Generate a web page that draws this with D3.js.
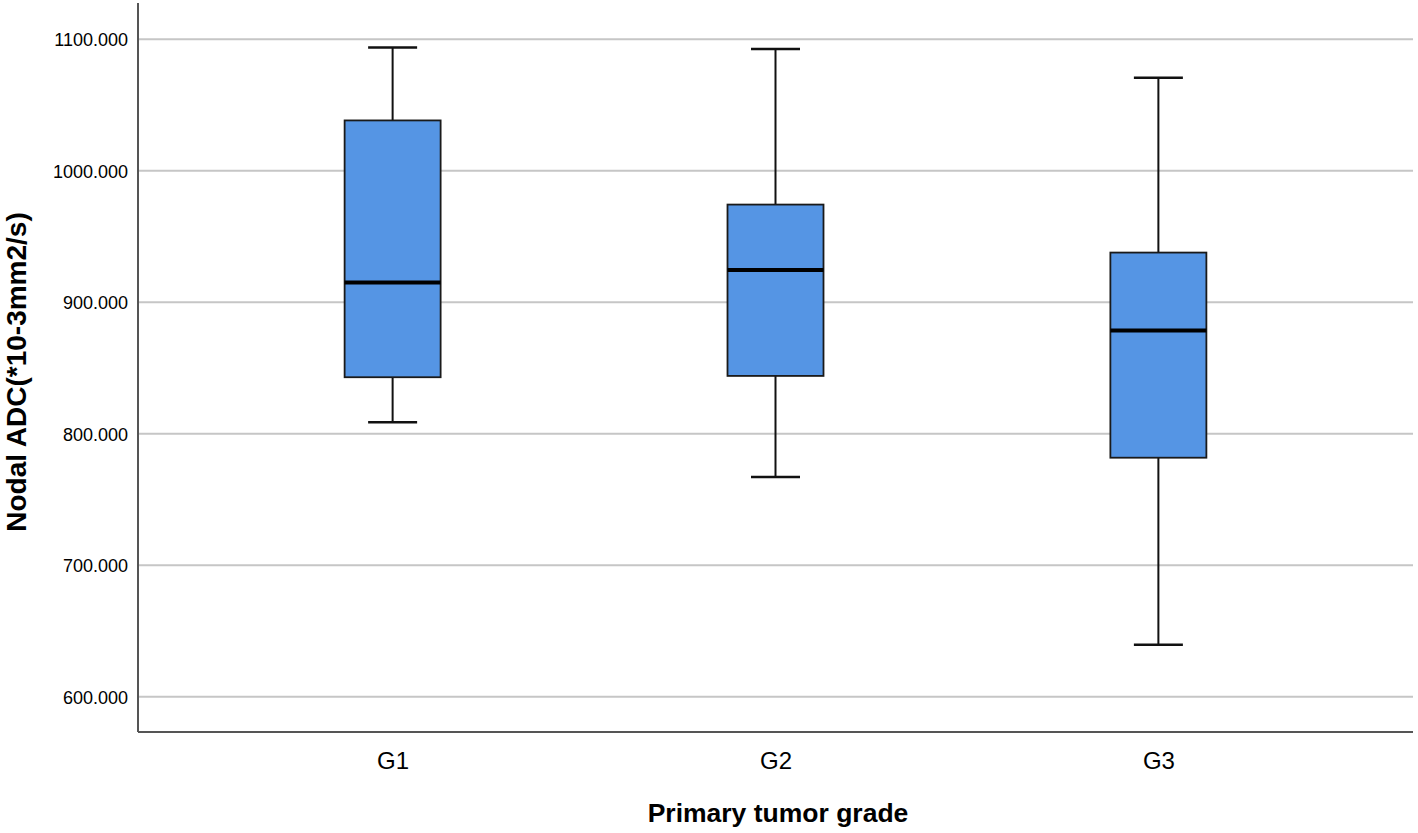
<!DOCTYPE html>
<html lang="en">
<head>
<meta charset="UTF-8">
<title>Nodal ADC by primary tumor grade</title>
<script src="https://d3js.org/d3.v7.min.js"></script>
<style>
  body { margin: 0; background: #fff; }
  svg text { font-family: Arial, "Liberation Sans", sans-serif; fill: #000; }
</style>
</head>
<body>
<div id="chart"></div>
<script>
// data
const grades = ["G1", "G2", "G3"];
const whiskerLow  = [808.8, 767.2, 639.5];
const q1          = [843.0, 844.0, 781.8];
const median      = [915.0, 924.5, 878.5];
const q3          = [1038.3, 974.3, 937.8];
const whiskerHigh = [1093.8, 1092.7, 1070.8];
const yTicks = [600, 700, 800, 900, 1000, 1100];

const width = 1418, height = 833;
const margin = { left: 138, right: 5, top: 3, bottom: 101 };

const svg = d3.select("#chart").append("svg")
    .attr("width", width)
    .attr("height", height);

const y = d3.scaleLinear()
    .domain([573.2, 1127.6])
    .range([height - margin.bottom, margin.top]);

const x = d3.scalePoint()
    .domain(grades)
    .range([margin.left, width - margin.right])
    .padding(0.665);

// gridlines
svg.append("g")
    .selectAll("line")
    .data(yTicks)
    .enter().append("line")
    .attr("x1", margin.left)
    .attr("x2", width - margin.right)
    .attr("y1", d => y(d))
    .attr("y2", d => y(d))
    .attr("stroke", "#c6c6c6")
    .attr("stroke-width", 2);

// y axis
const yAxis = svg.append("g")
    .attr("transform", `translate(${margin.left},0)`)
    .call(d3.axisLeft(y).tickValues(yTicks).tickSize(0).tickPadding(10)
        .tickFormat(d3.format(".3f")));
yAxis.select(".domain").remove();
yAxis.selectAll("text").attr("font-size", 18).attr("dy", "0.35em");

svg.append("line")
    .attr("x1", margin.left).attr("x2", margin.left)
    .attr("y1", margin.top).attr("y2", height - margin.bottom)
    .attr("stroke", "#555").attr("stroke-width", 2);

// x axis
const xAxis = svg.append("g")
    .attr("transform", `translate(0,${height - margin.bottom})`)
    .call(d3.axisBottom(x).tickSize(0).tickPadding(20));
xAxis.select(".domain").remove();
xAxis.selectAll("text").attr("font-size", 24).attr("dy", "0.71em");

svg.append("line")
    .attr("x1", margin.left).attr("x2", width - margin.right)
    .attr("y1", height - margin.bottom).attr("y2", height - margin.bottom)
    .attr("stroke", "#555").attr("stroke-width", 2);

// boxes
const boxW = 96, capW = 49;
const idx = d3.range(grades.length);
const g = svg.append("g");

// whisker stems
g.selectAll(".stem-hi").data(idx).enter().append("line")
    .attr("x1", i => x(grades[i])).attr("x2", i => x(grades[i]))
    .attr("y1", i => y(q3[i])).attr("y2", i => y(whiskerHigh[i]))
    .attr("stroke", "#111").attr("stroke-width", 2);
g.selectAll(".stem-lo").data(idx).enter().append("line")
    .attr("x1", i => x(grades[i])).attr("x2", i => x(grades[i]))
    .attr("y1", i => y(q1[i])).attr("y2", i => y(whiskerLow[i]))
    .attr("stroke", "#111").attr("stroke-width", 2);

// caps
[whiskerHigh, whiskerLow].forEach(arr => {
    g.selectAll(null).data(idx).enter().append("line")
        .attr("x1", i => x(grades[i]) - capW / 2)
        .attr("x2", i => x(grades[i]) + capW / 2)
        .attr("y1", i => y(arr[i])).attr("y2", i => y(arr[i]))
        .attr("stroke", "#111").attr("stroke-width", 2.5);
});

g.selectAll("rect").data(idx).enter().append("rect")
    .attr("x", i => x(grades[i]) - boxW / 2)
    .attr("width", boxW)
    .attr("y", i => y(q3[i]))
    .attr("height", i => y(q1[i]) - y(q3[i]))
    .attr("fill", "#5595e4")
    .attr("stroke", "#1a1a1a")
    .attr("stroke-width", 1.8);

g.selectAll(".median").data(idx).enter().append("line")
    .attr("x1", i => x(grades[i]) - boxW / 2)
    .attr("x2", i => x(grades[i]) + boxW / 2)
    .attr("y1", i => y(median[i])).attr("y2", i => y(median[i]))
    .attr("stroke", "#000").attr("stroke-width", 4);

// axis titles
svg.append("text")
    .attr("x", 778).attr("y", 822)
    .attr("text-anchor", "middle")
    .attr("font-size", 26.5).attr("font-weight", "bold")
    .text("Primary tumor grade");

svg.append("text")
    .attr("transform", "translate(26,372) rotate(-90)")
    .attr("text-anchor", "middle")
    .attr("font-size", 28).attr("font-weight", "bold")
    .text("Nodal ADC(*10-3mm2/s)");
</script>
</body>
</html>
